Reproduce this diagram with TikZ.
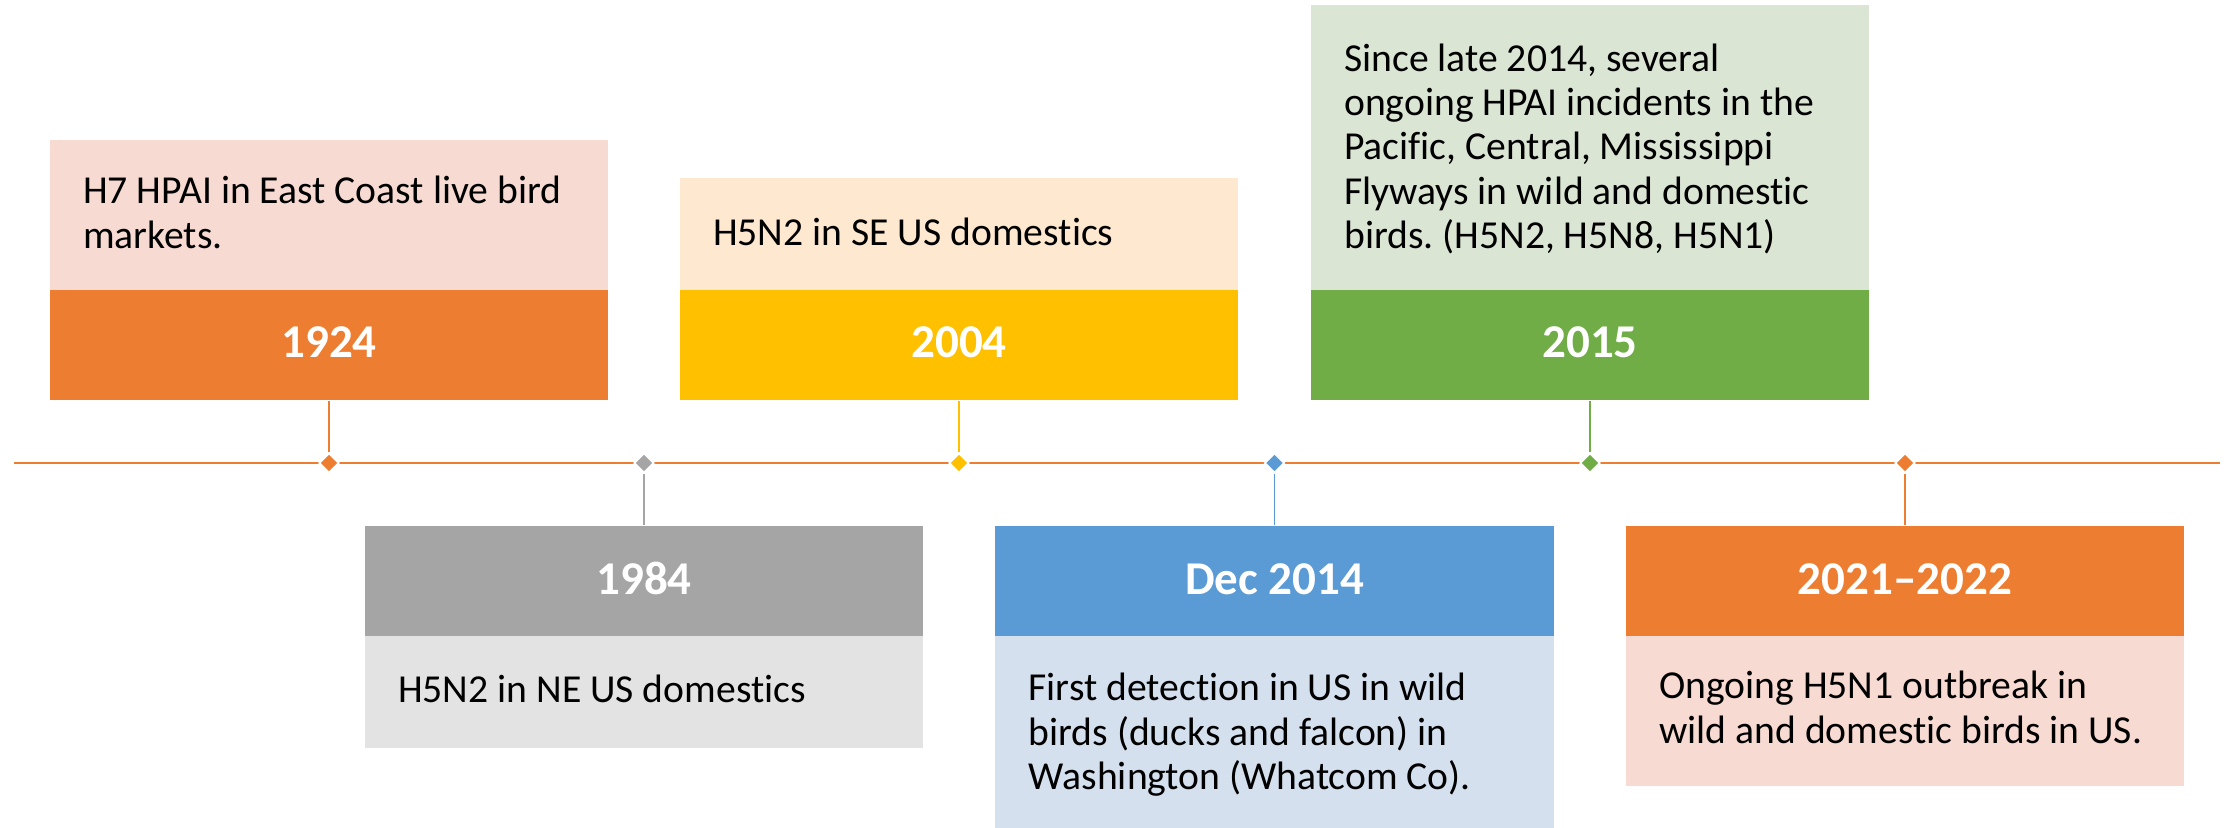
\documentclass[tikz,border=0pt]{standalone}
\usepackage{fontspec}
\setmainfont{Carlito}[Ligatures={NoCommon}]
\usetikzlibrary{shapes.geometric}
\frenchspacing

\definecolor{orng}{HTML}{ED7D31}
\definecolor{orngL}{HTML}{F7DAD1}
\definecolor{gry}{HTML}{A5A5A5}
\definecolor{gryL}{HTML}{E3E3E3}
\definecolor{gold}{HTML}{FFC000}
\definecolor{goldL}{HTML}{FEE8D0}
\definecolor{blu}{HTML}{5B9BD5}
\definecolor{bluL}{HTML}{D5E0EE}
\definecolor{grn}{HTML}{70AD47}
\definecolor{grnL}{HTML}{DAE5D4}

\begin{document}
\begin{tikzpicture}[x=0.01cm, y=-0.01cm,
  panel/.style={rectangle, inner sep=0pt, minimum width=5.58cm, draw=none},
  band/.style={panel, minimum height=1.10cm},
  year/.style={anchor=base, text=white, inner sep=0pt,
    font=\fontsize{13.37pt}{16pt}\selectfont\bfseries},
  body/.style={anchor=north west, align=left, inner sep=0pt, text=black,
    font=\fontsize{11.27pt}{12.6pt}\selectfont},
  tick/.style={diamond, aspect=1, inner sep=0pt, minimum width=0.2cm,
    minimum height=0.2cm, draw=white, line width=0.5pt},
  stem/.style={line width=0.4pt}
]
\useasboundingbox (0,0) rectangle (2233,828);

% ---- upper events: description panel above a coloured year band
\node[panel, fill=orngL, minimum height=1.509cm] (p1924) at (329,215.05) {};
\node[band, fill=orng] (b1924) at (329,345.25) {};
\node[panel, fill=goldL, minimum height=1.125cm] (p2004) at (959,234.0) {};
\node[band, fill=gold] (b2004) at (959,345.25) {};
\node[panel, fill=grnL, minimum height=2.855cm] (p2015) at (1590,147.75) {};
\node[band, fill=grn] (b2015) at (1590,345.25) {};

% ---- lower events: year band above a description panel
\node[band, fill=gry] (b1984) at (644,581) {};
\node[panel, fill=gryL, minimum height=1.12cm] (p1984) at (644,692) {};
\node[band, fill=blu] (b2014) at (1274.5,581) {};
\node[panel, fill=bluL, minimum height=1.92cm] (p2014) at (1274.5,732) {};
\node[band, fill=orng] (b2021) at (1905,581) {};
\node[panel, fill=orngL, minimum height=1.50cm] (p2021) at (1905,711) {};

% ---- year labels
\node[year] (y1924) at (329,357.5) {1924};
\node[year] (y2004) at (959,357.5) {2004};
\node[year] (y2015) at (1590,357.5) {2015};
\node[year] (y1984) at (644,595) {1984};
\node[year] (y2014) at (1274.5,595) {Dec 2014};
\node[year] (y2021) at (1905,595) {2021\textendash 2022};

% ---- descriptions
\node[body] (t1924) at (82.5,172) {\strut H7 HPAI in East Coast live bird\\markets.};
\node[body] (t2004) at (712.5,214) {\strut H5N2 in SE US domestics};
\node[body] (t2015) at (1343.5,39.5) {\strut Since late 2014, several\\ongoing HPAI incidents in the\\Pacific, Central, Mississippi\\Flyways in wild and domestic\\birds. (H5N2, H5N8, H5N1)};
\node[body] (t1984) at (397.5,671) {\strut H5N2 in NE US domestics};
\node[body] (t2014) at (1028,669) {\strut First detection in US in wild\\birds (ducks and falcon) in\\Washington (Whatcom Co).};
\node[body] (t2021) at (1658.5,667) {\strut Ongoing H5N1 outbreak in\\wild and domestic birds in US.};

% ---- time axis
\coordinate (axisL) at (14,463);
\coordinate (axisR) at (2220,463);
\draw[orng, line width=0.77pt] (axisL) -- (axisR);

\node[tick, fill=orng] (d1924) at (329,463) {};
\node[tick, fill=gry]  (d1984) at (644,463) {};
\node[tick, fill=gold] (d2004) at (959,463) {};
\node[tick, fill=blu]  (d2014) at (1274.5,463) {};
\node[tick, fill=grn]  (d2015) at (1590,463) {};
\node[tick, fill=orng] (d2021) at (1905,463) {};

% ---- stems joining bands to the axis
\draw[stem, orng] (b1924.south) -- (d1924.north);
\draw[stem, gold] (b2004.south) -- (d2004.north);
\draw[stem, grn]  (b2015.south) -- (d2015.north);
\draw[stem, gry]  (d1984.south) -- (b1984.north);
\draw[stem, blu]  (d2014.south) -- (b2014.north);
\draw[stem, orng] (d2021.south) -- (b2021.north);
\end{tikzpicture}
\end{document}
